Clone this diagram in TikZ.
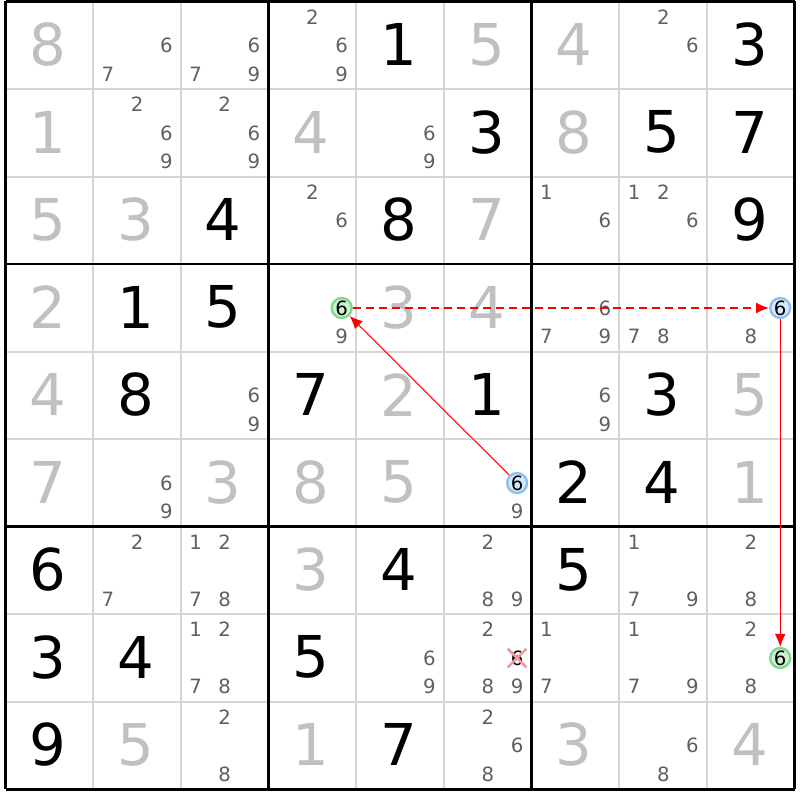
\documentclass[tikz,border=0pt]{standalone}
\usepackage{fontspec}
\setmainfont{DejaVu Sans}
\usetikzlibrary{arrows.meta,shapes.misc}

\definecolor{givengray}{RGB}{192,192,192}
\definecolor{candgray}{RGB}{96,96,96}
\definecolor{linegray}{RGB}{214,214,214}
\definecolor{ongreen}{RGB}{205,242,205}
\definecolor{ongreenline}{RGB}{125,215,140}
\definecolor{offblue}{RGB}{212,232,255}
\definecolor{offblueline}{RGB}{140,190,240}
\definecolor{crosspink}{RGB}{242,150,160}

\begin{document}
\begin{tikzpicture}[x=0.01cm, y=-0.01cm]
    \tikzstyle{given} = [text=givengray, font=\fontsize{16.4}{18}\selectfont, inner sep=0pt]
    \tikzstyle{placed} = [text=black, font=\fontsize{16.4}{18}\selectfont, inner sep=0pt]
    \tikzstyle{cand} = [text=candgray, font=\fontsize{5.6}{6}\selectfont, inner sep=0pt]
    \tikzstyle{oncand} = [cand, text=black, circle, draw=ongreenline, fill=ongreen, line width=0.65pt, minimum size=0.2cm]
    \tikzstyle{offcand} = [cand, text=black, circle, draw=offblueline, fill=offblue, line width=0.65pt, minimum size=0.2cm]
    \tikzstyle{thinline} = [linegray, line width=0.57pt]
    \tikzstyle{boxline} = [black, line width=0.85pt]
    \tikzstyle{chainarrow} = [red, line width=0.3pt, -{Latex[length=0.13cm,width=0.11cm]}]
    \tikzstyle{chaindash} = [chainarrow, line width=0.45pt, dash pattern=on 0.08cm off 0.05cm]

    \path[fill=white] (0,0) rectangle (800,800);

    % grid
    \foreach \i in {0,...,9} {
        \draw[thinline] (5.5+87.7*\i,1.5) -- (5.5+87.7*\i,789);
        \draw[thinline] (5.5,1.5+87.5*\i) -- (795,1.5+87.5*\i);
    }
    \foreach \i in {0,3,6,9} {
        \draw[boxline] (5.5+87.7*\i,1.5) -- (5.5+87.7*\i,789);
        \draw[boxline] (5.5,1.5+87.5*\i) -- (795,1.5+87.5*\i);
    }

    % big digits
    \foreach \row/\col/\d in {0/0/8, 0/5/5, 0/6/4, 1/0/1, 1/3/4, 1/6/8, 2/0/5, 2/1/3, 2/5/7,
        3/0/2, 3/4/3, 3/5/4, 4/0/4, 4/4/2, 4/8/5, 5/0/7, 5/2/3, 5/3/8, 5/4/5, 5/8/1,
        6/3/3, 8/1/5, 8/3/1, 8/6/3, 8/8/4}
        \node[given] (g-\row-\col) at (4+87.7*\col+43.85, 1+87.5*\row+43.75) {\d};
    \foreach \row/\col/\d in {0/4/1, 0/8/3, 1/5/3, 1/7/5, 1/8/7, 2/2/4, 2/4/8, 2/8/9,
        3/1/1, 3/2/5, 4/1/8, 4/3/7, 4/5/1, 4/7/3, 5/6/2, 5/7/4, 6/0/6, 6/4/4, 6/6/5,
        7/0/3, 7/1/4, 7/3/5, 8/0/9, 8/4/7}
        \node[placed] (p-\row-\col) at (4+87.7*\col+43.85, 1+87.5*\row+43.75) {\d};

    % candidates
    \foreach \row/\col/\ds in {0/1/{6,7}, 0/2/{6,7,9}, 0/3/{2,6,9}, 0/7/{2,6},
        1/1/{2,6,9}, 1/2/{2,6,9}, 1/4/{6,9}, 2/3/{2,6}, 2/6/{1,6}, 2/7/{1,2,6},
        3/3/{9}, 3/6/{6,7,9}, 3/7/{7,8}, 3/8/{8}, 4/2/{6,9}, 4/6/{6,9}, 5/1/{6,9}, 5/5/{9},
        6/1/{2,7}, 6/2/{1,2,7,8}, 6/5/{2,8,9}, 6/7/{1,7,9}, 6/8/{2,8},
        7/2/{1,2,7,8}, 7/4/{6,9}, 7/5/{2,8,9}, 7/6/{1,7}, 7/7/{1,7,9}, 7/8/{2,8},
        8/2/{2,8}, 8/5/{2,6,8}, 8/7/{6,8}}
        \foreach \d in \ds {
            \pgfmathsetmacro{\cx}{5.5+87.7*\col+14.62*(2*mod(\d-1,3)+1)}
            \pgfmathsetmacro{\cy}{1.5+87.5*\row+15.5+28.5*int((\d-1)/3)}
            \node[cand] (c-\row-\col-\d) at (\cx,\cy) {\d};
        }

    % chain
    \node[oncand] (on1) at (341.7,308) {6};
    \node[offcand] (off1) at (517.1,483) {6};
    \node[offcand] (off2) at (780.2,308) {6};
    \node[oncand] (on2) at (780.2,658) {6};
    \node[cand, text=black, cross out, draw=crosspink, line width=0.75pt, minimum size=0.16cm] (elim) at (517.1,658) {6};

    \draw[chaindash] (on1) -- (off2);
    \draw[chainarrow] (off1) -- (on1);
    \draw[chainarrow] (off2) -- (on2);
\end{tikzpicture}
\end{document}
